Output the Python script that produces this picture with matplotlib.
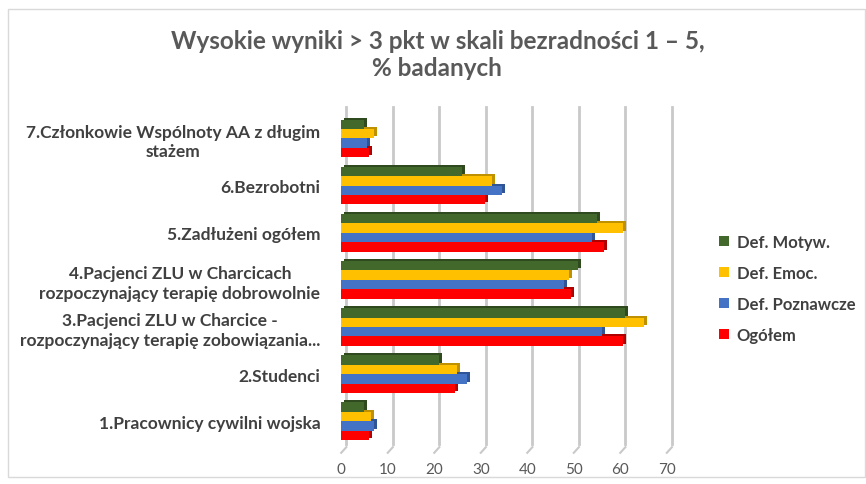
import numpy as np
import matplotlib
matplotlib.use("Agg")
import matplotlib.pyplot as plt
from matplotlib.transforms import offset_copy
from matplotlib.patches import Rectangle

plt.rcParams['font.family'] = ['Lato', 'DejaVu Sans']

categories = ["1.Pracownicy cywilni wojska",
              "2.Studenci",
              "3.Pacjenci ZLU w Charcice -\nrozpoczynający terapię zobowiązania...",
              "4.Pacjenci ZLU w Charcicach\nrozpoczynający terapię dobrowolnie",
              "5.Zadłużeni ogółem",
              "6.Bezrobotni",
              "7.Członkowie Wspólnoty AA z długim\nstażem"]

ogolem = [6, 24.5, 60.5, 49.5, 56.5, 31, 6]
poznawcze = [7, 27, 56, 48, 54, 34.5, 5.5]
emoc = [6.5, 25, 65, 49, 60.5, 32.5, 7]
motyw = [5, 21, 61, 51, 55, 26, 5]

series = [("Ogółem", ogolem, "#ff0000", "#b00000"),
          ("Def. Poznawcze", poznawcze, "#4472c4", "#2f5597"),
          ("Def. Emoc.", emoc, "#ffc000", "#bf9000"),
          ("Def. Motyw.", motyw, "#43682b", "#2e4a1e")]

fig = plt.figure(figsize=(8.66, 4.85), dpi=100)
ax = fig.add_axes([0.394, 0.076, 0.376, 0.69])

y = np.arange(len(categories))
h = 0.2
offsets = [-0.3, -0.1, 0.1, 0.3]

# back wall gridlines (shifted a bit for the 3D look)
back = offset_copy(ax.transData, fig=fig, x=5, y=5, units='dots')
for t in range(0, 80, 10):
    ax.plot([t, t], [-0.6, 6.55], color='#c9c9c9', lw=2, transform=back, zorder=0, clip_on=False)
    ax.plot([t, t + 1.1], [-0.67, -0.55], color='#c9c9c9', lw=1.5, zorder=0, clip_on=False)

side = offset_copy(ax.transData, fig=fig, x=3, y=2, units='dots')
handles = []
for (name, vals, col, dark), off in zip(series, offsets):
    ax.barh(y + off, vals, height=h, color=dark, transform=side, zorder=2)
    b = ax.barh(y + off, vals, height=h, color=col, zorder=3, label=name)
    handles.append(b)

ax.set_xlim(0, 70)
ax.set_ylim(-0.55, 6.55)
ax.set_xticks(range(0, 80, 10))
ax.set_yticks(y)
ax.set_yticklabels(categories, fontsize=12.5, fontweight='bold', color='#404040',
                   multialignment='center', linespacing=1.25)
ax.tick_params(axis='x', length=0, labelsize=11, labelcolor='#595959', pad=11)
ax.tick_params(axis='y', length=0, pad=15)
for s in ax.spines.values():
    s.set_visible(False)

fig.text(0.505, 0.887, "Wysokie wyniki > 3 pkt w skali bezradności 1 – 5,\n% badanych",
         ha='center', va='center', fontsize=17.5, fontweight='bold', color='#595959',
         linespacing=1.2)

leg = fig.legend(handles[::-1], [s[0] for s in series][::-1], loc='center left',
                 bbox_to_anchor=(0.813, 0.403), frameon=False, handlelength=0.6,
                 handleheight=0.6, labelspacing=0.9, handletextpad=0.45,
                 prop={'weight': 'bold', 'size': 12})
for t in leg.get_texts():
    t.set_color('#404040')

fig.patches.append(Rectangle((0.009, 0.015), 0.99, 0.965, transform=fig.transFigure,
                             fill=False, edgecolor='#d9d9d9', lw=1))

fig.savefig("out.png", dpi=100)
